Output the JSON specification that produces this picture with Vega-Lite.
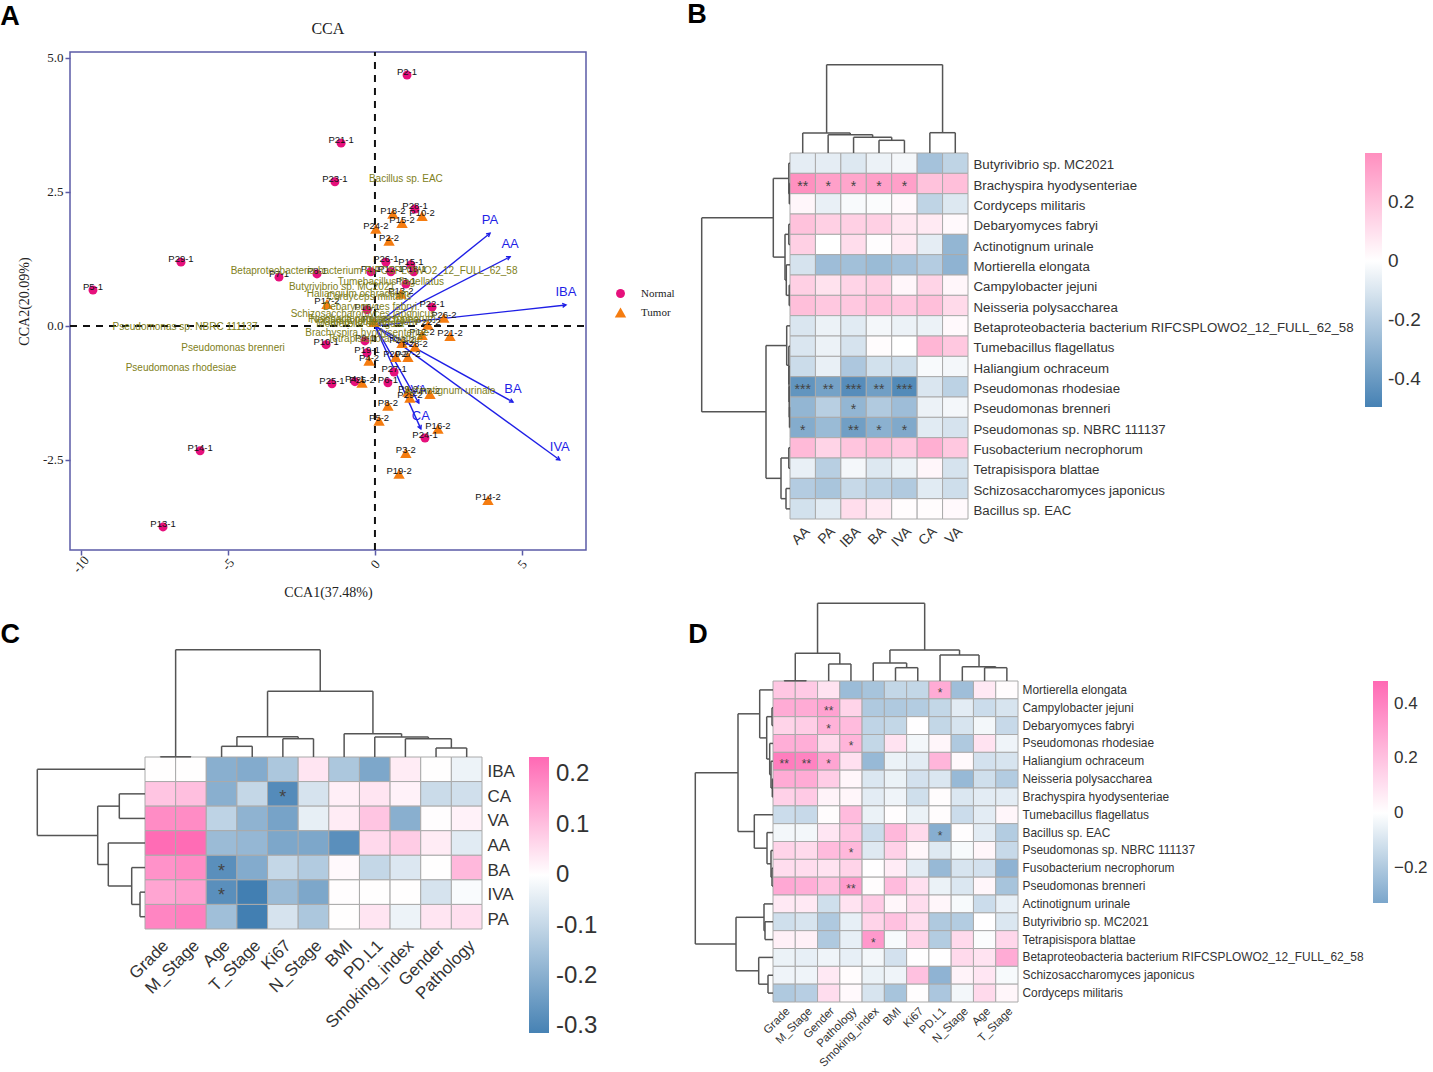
{"$schema":"https://vega.github.io/schema/vega-lite/v6.json","width":1433,"height":1072,"autosize":"none","padding":0,"background":"white","config":{"view":{"stroke":null}},
"resolve":{"scale":{"x":"independent","y":"independent","color":"independent","shape":"independent","size":"independent"},"axis":{"x":"independent","y":"independent"},"legend":{"color":"independent","shape":"independent","size":"independent"}},
"layer":[
{"encoding":{"x":{"field":"x","type":"quantitative","scale":{"domain":[-10.36,7.17],"range":[70,586],"nice":false,"zero":false},"axis":{"orient":"bottom","offset":-522,"values":[-10,-5,0,5],"grid":false,"title":"CCA1(37.48%)","titleFont":"Liberation Serif","titleFontSize":14,"titleFontWeight":"normal","titleColor":"#222","titlePadding":10,"labelFont":"Liberation Serif","labelFontSize":13,"labelAngle":-50,"labelAlign":"center","labelBaseline":"middle","labelPadding":9,"labelColor":"#222","labelExpr":"replace(''+datum.value,'−','-')","domain":false,"tickColor":"#5b5ba6","tickSize":5,"tickWidth":1.5}},
"y":{"field":"y","type":"quantitative","scale":{"domain":[-4.18,5.11],"range":[550,52],"nice":false,"zero":false},"axis":{"orient":"left","offset":-70,"values":[-2.5,0,2.5,5],"grid":false,"title":"CCA2(20.09%)","titleFont":"Liberation Serif","titleFontSize":14,"titleFontWeight":"normal","titleColor":"#222","titlePadding":11,"labelFont":"Liberation Serif","labelFontSize":13,"labelColor":"#222","labelExpr":"replace(format(datum.value,'.1f'),'−','-')","domain":false,"tickColor":"#5b5ba6","tickSize":5,"tickWidth":1.5}}},
"layer":[
{"data":{"values":[{"x":-10.36,"x1":7.17,"y":-4.18,"y1":5.11}]},"mark":{"type":"rect","fill":null,"fillOpacity":0,"stroke":"#5b5ba6","strokeWidth":1.5},"encoding":{"x2":{"field":"x1"},"y2":{"field":"y1"}}},
{"data":{"values":[{"x":0,"y":-4.18,"y1":5.11}]},"mark":{"type":"rule","color":"#111","strokeWidth":2,"strokeDash":[7,6]},"encoding":{"y2":{"field":"y1"}}},
{"data":{"values":[{"x":-10.36,"x1":7.17,"y":0}]},"mark":{"type":"rule","color":"#111","strokeWidth":2,"strokeDash":[7,6]},"encoding":{"x2":{"field":"x1"}}},
{"data":{"name":"arrows","values":[{"name":"PA","x":3.91,"y":1.73,"heading":51},{"name":"AA","x":4.59,"y":1.29,"heading":62.9},{"name":"IBA","x":6.49,"y":0.39,"heading":83.7},{"name":"BA","x":4.69,"y":-1.42,"heading":118.8},{"name":"IVA","x":6.28,"y":-2.5,"heading":125.9},{"name":"VA","x":1.49,"y":-1.44,"heading":150.3},{"name":"CA","x":1.56,"y":-1.92,"heading":155.9}]},
"layer":[{"mark":{"type":"rule","color":"#1f1fe6","strokeWidth":1.4},"encoding":{"x2":{"datum":0},"y2":{"datum":0}}},
{"mark":{"type":"point","shape":"M-0.5,0.9L0,0L0.5,0.9","filled":false,"stroke":"#1f1fe6","strokeWidth":1.4,"size":64,"opacity":1},"encoding":{"angle":{"field":"heading","type":"quantitative","scale":null}}},
{"mark":{"type":"text","color":"#1f1fe6","font":"Liberation Sans","fontSize":13,"dy":-13},"encoding":{"text":{"field":"name"}}}]},
{"data":{"values":[
{"n":"P2-1","g":"Normal","x":1.09,"y":4.68},{"n":"P21-1","g":"Normal","x":-1.15,"y":3.41},{"n":"P23-1","g":"Normal","x":-1.36,"y":2.69},{"n":"P28-1","g":"Normal","x":1.36,"y":2.18},{"n":"P29-1","g":"Normal","x":-6.59,"y":1.19},{"n":"P5-1","g":"Normal","x":-9.58,"y":0.67},{"n":"P7-1","g":"Normal","x":-3.26,"y":0.91},{"n":"P8-1","g":"Normal","x":-1.97,"y":0.97},{"n":"P26-1","g":"Normal","x":0.37,"y":1.19},{"n":"P15-1","g":"Normal","x":1.22,"y":1.14},{"n":"P1-1","g":"Normal","x":-0.14,"y":1.01},{"n":"P12-1","g":"Normal","x":0.54,"y":1.01},{"n":"P18-1","g":"Normal","x":1.32,"y":1.01},{"n":"P3-1","g":"Normal","x":1.05,"y":0.78},{"n":"P16-1","g":"Normal","x":-0.27,"y":0.3},{"n":"P10-1","g":"Normal","x":-1.66,"y":-0.35},{"n":"P19-1","g":"Normal","x":-0.27,"y":-0.5},{"n":"P22-1","g":"Normal","x":1.94,"y":0.35},{"n":"P9-1","g":"Normal","x":-0.34,"y":-0.28},{"n":"P27-1","g":"Normal","x":0.65,"y":-0.86},{"n":"P25-1","g":"Normal","x":-1.46,"y":-1.08},{"n":"P4-1","g":"Normal","x":-0.68,"y":-1.04},{"n":"P6-1","g":"Normal","x":0.44,"y":-1.06},{"n":"P24-1","g":"Normal","x":1.7,"y":-2.09},{"n":"P14-1","g":"Normal","x":-5.94,"y":-2.33},{"n":"P13-1","g":"Normal","x":-7.2,"y":-3.75},
{"n":"P10-2","g":"Tumor","x":1.6,"y":2.05},{"n":"P18-2","g":"Tumor","x":0.61,"y":2.09},{"n":"P15-2","g":"Tumor","x":0.92,"y":1.92},{"n":"P24-2","g":"Tumor","x":0.03,"y":1.81},{"n":"P2-2","g":"Tumor","x":0.48,"y":1.59},{"n":"P13-2","g":"Tumor","x":0.88,"y":0.6},{"n":"P17-2","g":"Tumor","x":-1.63,"y":0.41},{"n":"P26-2","g":"Tumor","x":2.34,"y":0.15},{"n":"P22-2","g":"Tumor","x":1.8,"y":0.02},{"n":"P12-2","g":"Tumor","x":1.6,"y":-0.17},{"n":"P21-2","g":"Tumor","x":2.55,"y":-0.19},{"n":"P11-2","g":"Tumor","x":-0.03,"y":0.07},{"n":"P23-2","g":"Tumor","x":0.92,"y":-0.32},{"n":"P28-2","g":"Tumor","x":1.36,"y":-0.39},{"n":"P4-2","g":"Tumor","x":-0.2,"y":-0.65},{"n":"P20-2","g":"Tumor","x":0.71,"y":-0.58},{"n":"P27-2","g":"Tumor","x":1.12,"y":-0.58},{"n":"P25-2","g":"Tumor","x":-0.44,"y":-1.06},{"n":"P7-2","g":"Tumor","x":1.87,"y":-1.27},{"n":"P29-2","g":"Tumor","x":1.19,"y":-1.34},{"n":"P9-2","g":"Tumor","x":1.12,"y":-1.23},{"n":"P8-2","g":"Tumor","x":0.44,"y":-1.49},{"n":"P5-2","g":"Tumor","x":0.14,"y":-1.77},{"n":"P16-2","g":"Tumor","x":2.14,"y":-1.92},{"n":"P3-2","g":"Tumor","x":1.05,"y":-2.37},{"n":"P19-2","g":"Tumor","x":0.82,"y":-2.76},{"n":"P14-2","g":"Tumor","x":3.84,"y":-3.25}]},
"layer":[{"mark":{"type":"point","filled":true,"opacity":1},"encoding":{"color":{"field":"g","type":"nominal","scale":{"domain":["Normal","Tumor"],"range":["#E6107C","#F57C10"]},"legend":{"orient":"none","legendX":614,"legendY":288,"title":null,"labelFont":"Liberation Serif","labelFontSize":11,"labelColor":"#222","rowPadding":7,"labelOffset":14}},"shape":{"field":"g","type":"nominal","scale":{"domain":["Normal","Tumor"],"range":["circle","triangle-up"]},"legend":{"orient":"none","legendX":614,"legendY":288,"title":null,"labelFont":"Liberation Serif","labelFontSize":11,"labelColor":"#222","rowPadding":7,"labelOffset":14}},"size":{"field":"g","type":"ordinal","scale":{"domain":["Normal","Tumor"],"range":[80,130]},"legend":{"orient":"none","legendX":614,"legendY":288,"title":null,"labelFont":"Liberation Serif","labelFontSize":11,"labelColor":"#222","rowPadding":7,"labelOffset":14}}}},
{"mark":{"type":"text","color":"#111","font":"Liberation Sans","fontSize":9.5,"dy":-3},"encoding":{"text":{"field":"n"}}}]},
{"data":{"values":[{"t":"Bacillus sp. EAC","x":1.05,"y":2.74},{"t":"Betaproteobacteria bacterium RIFCSPLOWO2_12_FULL_62_58","x":-0.03,"y":1.03},{"t":"Tumebacillus flagellatus","x":0.54,"y":0.82},{"t":"Butyrivibrio sp. MC2021","x":-1.12,"y":0.73},{"t":"Haliangium ochraceum","x":-0.58,"y":0.6},{"t":"Cordyceps militaris","x":-0.2,"y":0.54},{"t":"Debaryomyces fabryi","x":-0.17,"y":0.35},{"t":"Schizosaccharomyces japonicus","x":-0.41,"y":0.22},{"t":"Fusobacterium necrophorum","x":-0.1,"y":0.13},{"t":"Neisseria polysaccharea","x":-0.34,"y":0.11},{"t":"Campylobacter jejuni","x":-0.17,"y":0.07},{"t":"Mortierella elongata","x":-0.5,"y":0.04},{"t":"Pseudomonas sp. NBRC 111137","x":-6.45,"y":-0.02},{"t":"Pseudomonas brenneri","x":-4.82,"y":-0.41},{"t":"Pseudomonas rhodesiae","x":-6.59,"y":-0.78},{"t":"Brachyspira hyodysenteriae","x":-0.27,"y":-0.13},{"t":"Tetrapisispora blattae","x":0,"y":-0.24},{"t":"Actinotignum urinale","x":2.55,"y":-1.21}]},"mark":{"type":"text","color":"#808020","font":"Liberation Sans","fontSize":10},"encoding":{"text":{"field":"t"}}},
{"data":{"values":[{"t":"CCA","x":-1.6,"y":5.54}]},"mark":{"type":"text","color":"#222","font":"Liberation Serif","fontSize":16},"encoding":{"text":{"field":"t"}}},
{"data":{"values":[{"t":"A","x":-12.4,"y":5.76}]},"mark":{"type":"text","color":"#000","font":"Liberation Sans","fontSize":27,"fontWeight":"bold"},"encoding":{"text":{"field":"t"}}}
]},
{"data":{"values":[
{"r":"Butyrivibrio sp. MC2021","c":"AA","v":-0.07},{"r":"Butyrivibrio sp. MC2021","c":"PA","v":-0.07},{"r":"Butyrivibrio sp. MC2021","c":"IBA","v":-0.09},{"r":"Butyrivibrio sp. MC2021","c":"BA","v":-0.05},{"r":"Butyrivibrio sp. MC2021","c":"IVA","v":-0.03},{"r":"Butyrivibrio sp. MC2021","c":"CA","v":-0.24},{"r":"Butyrivibrio sp. MC2021","c":"VA","v":-0.17},
{"r":"Brachyspira hyodysenteriae","c":"AA","v":0.36,"s":"**"},{"r":"Brachyspira hyodysenteriae","c":"PA","v":0.31,"s":"*"},{"r":"Brachyspira hyodysenteriae","c":"IBA","v":0.29,"s":"*"},{"r":"Brachyspira hyodysenteriae","c":"BA","v":0.31,"s":"*"},{"r":"Brachyspira hyodysenteriae","c":"IVA","v":0.31,"s":"*"},{"r":"Brachyspira hyodysenteriae","c":"CA","v":0.2},{"r":"Brachyspira hyodysenteriae","c":"VA","v":0.21},
{"r":"Cordyceps militaris","c":"AA","v":0.03},{"r":"Cordyceps militaris","c":"PA","v":-0.06},{"r":"Cordyceps militaris","c":"IBA","v":-0.02},{"r":"Cordyceps militaris","c":"BA","v":-0.01},{"r":"Cordyceps militaris","c":"IVA","v":0.02},{"r":"Cordyceps militaris","c":"CA","v":-0.17},{"r":"Cordyceps militaris","c":"VA","v":-0.09},
{"r":"Debaryomyces fabryi","c":"AA","v":0.2},{"r":"Debaryomyces fabryi","c":"PA","v":0.155},{"r":"Debaryomyces fabryi","c":"IBA","v":0.155},{"r":"Debaryomyces fabryi","c":"BA","v":0.155},{"r":"Debaryomyces fabryi","c":"IVA","v":0.08},{"r":"Debaryomyces fabryi","c":"CA","v":0.07},{"r":"Debaryomyces fabryi","c":"VA","v":0.02},
{"r":"Actinotignum urinale","c":"AA","v":0.155},{"r":"Actinotignum urinale","c":"PA","v":0},{"r":"Actinotignum urinale","c":"IBA","v":0.11},{"r":"Actinotignum urinale","c":"BA","v":0.005},{"r":"Actinotignum urinale","c":"IVA","v":0.07},{"r":"Actinotignum urinale","c":"CA","v":-0.07},{"r":"Actinotignum urinale","c":"VA","v":-0.29},
{"r":"Mortierella elongata","c":"AA","v":-0.11},{"r":"Mortierella elongata","c":"PA","v":-0.26},{"r":"Mortierella elongata","c":"IBA","v":-0.25},{"r":"Mortierella elongata","c":"BA","v":-0.27},{"r":"Mortierella elongata","c":"IVA","v":-0.24},{"r":"Mortierella elongata","c":"CA","v":-0.2},{"r":"Mortierella elongata","c":"VA","v":-0.3},
{"r":"Campylobacter jejuni","c":"AA","v":0.155},{"r":"Campylobacter jejuni","c":"PA","v":0.095},{"r":"Campylobacter jejuni","c":"IBA","v":0.14},{"r":"Campylobacter jejuni","c":"BA","v":0.155},{"r":"Campylobacter jejuni","c":"IVA","v":0.03},{"r":"Campylobacter jejuni","c":"CA","v":0.14},{"r":"Campylobacter jejuni","c":"VA","v":0.03},
{"r":"Neisseria polysaccharea","c":"AA","v":0.21},{"r":"Neisseria polysaccharea","c":"PA","v":0.18},{"r":"Neisseria polysaccharea","c":"IBA","v":0.18},{"r":"Neisseria polysaccharea","c":"BA","v":0.2},{"r":"Neisseria polysaccharea","c":"IVA","v":0.18},{"r":"Neisseria polysaccharea","c":"CA","v":0.21},{"r":"Neisseria polysaccharea","c":"VA","v":0.12},
{"r":"Betaproteobacteria bacterium RIFCSPLOWO2_12_FULL_62_58","c":"AA","v":-0.1},{"r":"Betaproteobacteria bacterium RIFCSPLOWO2_12_FULL_62_58","c":"PA","v":-0.05},{"r":"Betaproteobacteria bacterium RIFCSPLOWO2_12_FULL_62_58","c":"IBA","v":-0.08},{"r":"Betaproteobacteria bacterium RIFCSPLOWO2_12_FULL_62_58","c":"BA","v":-0.03},{"r":"Betaproteobacteria bacterium RIFCSPLOWO2_12_FULL_62_58","c":"IVA","v":-0.05},{"r":"Betaproteobacteria bacterium RIFCSPLOWO2_12_FULL_62_58","c":"CA","v":-0.05},{"r":"Betaproteobacteria bacterium RIFCSPLOWO2_12_FULL_62_58","c":"VA","v":0.02},
{"r":"Tumebacillus flagellatus","c":"AA","v":-0.1},{"r":"Tumebacillus flagellatus","c":"PA","v":-0.05},{"r":"Tumebacillus flagellatus","c":"IBA","v":-0.11},{"r":"Tumebacillus flagellatus","c":"BA","v":0.01},{"r":"Tumebacillus flagellatus","c":"IVA","v":0},{"r":"Tumebacillus flagellatus","c":"CA","v":0.24},{"r":"Tumebacillus flagellatus","c":"VA","v":0.18},
{"r":"Haliangium ochraceum","c":"AA","v":-0.14},{"r":"Haliangium ochraceum","c":"PA","v":-0.06},{"r":"Haliangium ochraceum","c":"IBA","v":-0.22},{"r":"Haliangium ochraceum","c":"BA","v":-0.12},{"r":"Haliangium ochraceum","c":"IVA","v":-0.13},{"r":"Haliangium ochraceum","c":"CA","v":-0.02},{"r":"Haliangium ochraceum","c":"VA","v":-0.03},
{"r":"Pseudomonas rhodesiae","c":"AA","v":-0.42,"s":"***"},{"r":"Pseudomonas rhodesiae","c":"PA","v":-0.37,"s":"**"},{"r":"Pseudomonas rhodesiae","c":"IBA","v":-0.45,"s":"***"},{"r":"Pseudomonas rhodesiae","c":"BA","v":-0.38,"s":"**"},{"r":"Pseudomonas rhodesiae","c":"IVA","v":-0.46,"s":"***"},{"r":"Pseudomonas rhodesiae","c":"CA","v":-0.1},{"r":"Pseudomonas rhodesiae","c":"VA","v":-0.18},
{"r":"Pseudomonas brenneri","c":"AA","v":-0.29},{"r":"Pseudomonas brenneri","c":"PA","v":-0.19},{"r":"Pseudomonas brenneri","c":"IBA","v":-0.29,"s":"*"},{"r":"Pseudomonas brenneri","c":"BA","v":-0.21},{"r":"Pseudomonas brenneri","c":"IVA","v":-0.26},{"r":"Pseudomonas brenneri","c":"CA","v":-0.05},{"r":"Pseudomonas brenneri","c":"VA","v":-0.03},
{"r":"Pseudomonas sp. NBRC 111137","c":"AA","v":-0.33,"s":"*"},{"r":"Pseudomonas sp. NBRC 111137","c":"PA","v":-0.27},{"r":"Pseudomonas sp. NBRC 111137","c":"IBA","v":-0.38,"s":"**"},{"r":"Pseudomonas sp. NBRC 111137","c":"BA","v":-0.31,"s":"*"},{"r":"Pseudomonas sp. NBRC 111137","c":"IVA","v":-0.34,"s":"*"},{"r":"Pseudomonas sp. NBRC 111137","c":"CA","v":-0.08},{"r":"Pseudomonas sp. NBRC 111137","c":"VA","v":-0.11},
{"r":"Fusobacterium necrophorum","c":"AA","v":0.225},{"r":"Fusobacterium necrophorum","c":"PA","v":0.14},{"r":"Fusobacterium necrophorum","c":"IBA","v":0.19},{"r":"Fusobacterium necrophorum","c":"BA","v":0.21},{"r":"Fusobacterium necrophorum","c":"IVA","v":0.18},{"r":"Fusobacterium necrophorum","c":"CA","v":0.26},{"r":"Fusobacterium necrophorum","c":"VA","v":0.18},
{"r":"Tetrapisispora blattae","c":"AA","v":-0.06},{"r":"Tetrapisispora blattae","c":"PA","v":-0.19},{"r":"Tetrapisispora blattae","c":"IBA","v":-0.03},{"r":"Tetrapisispora blattae","c":"BA","v":-0.09},{"r":"Tetrapisispora blattae","c":"IVA","v":-0.05},{"r":"Tetrapisispora blattae","c":"CA","v":0.03},{"r":"Tetrapisispora blattae","c":"VA","v":-0.11},
{"r":"Schizosaccharomyces japonicus","c":"AA","v":-0.2},{"r":"Schizosaccharomyces japonicus","c":"PA","v":-0.23},{"r":"Schizosaccharomyces japonicus","c":"IBA","v":-0.15},{"r":"Schizosaccharomyces japonicus","c":"BA","v":-0.18},{"r":"Schizosaccharomyces japonicus","c":"IVA","v":-0.21},{"r":"Schizosaccharomyces japonicus","c":"CA","v":-0.08},{"r":"Schizosaccharomyces japonicus","c":"VA","v":-0.13},
{"r":"Bacillus sp. EAC","c":"AA","v":-0.12},{"r":"Bacillus sp. EAC","c":"PA","v":-0.08},{"r":"Bacillus sp. EAC","c":"IBA","v":0.11},{"r":"Bacillus sp. EAC","c":"BA","v":0.07},{"r":"Bacillus sp. EAC","c":"IVA","v":0.01},{"r":"Bacillus sp. EAC","c":"CA","v":0.01},{"r":"Bacillus sp. EAC","c":"VA","v":0.02}]},
"encoding":{"x":{"field":"c","type":"nominal","scale":{"domain":["AA","PA","IBA","BA","IVA","CA","VA"],"range":[790,968],"padding":0},"axis":{"orient":"bottom","offset":-553,"title":null,"ticks":false,"domain":false,"grid":false,"labelAngle":-45,"labelFont":"Liberation Sans","labelFontSize":14,"labelColor":"#333","labelPadding":5,"labelLimit":500,"labelOverlap":false}},
"y":{"field":"r","type":"nominal","scale":{"domain":["Butyrivibrio sp. MC2021","Brachyspira hyodysenteriae","Cordyceps militaris","Debaryomyces fabryi","Actinotignum urinale","Mortierella elongata","Campylobacter jejuni","Neisseria polysaccharea","Betaproteobacteria bacterium RIFCSPLOWO2_12_FULL_62_58","Tumebacillus flagellatus","Haliangium ochraceum","Pseudomonas rhodesiae","Pseudomonas brenneri","Pseudomonas sp. NBRC 111137","Fusobacterium necrophorum","Tetrapisispora blattae","Schizosaccharomyces japonicus","Bacillus sp. EAC"],"range":[153,519],"padding":0},"axis":{"orient":"right","offset":-465,"title":null,"ticks":false,"domain":false,"grid":false,"labelFont":"Liberation Sans","labelFontSize":13.25,"labelColor":"#333","labelPadding":5,"labelOffset":2,"labelLimit":600,"labelOverlap":false}}},
"layer":[{"mark":{"type":"rect","stroke":"#aaa","strokeWidth":1},"encoding":{"color":{"field":"v","type":"quantitative","scale":{"type":"linear","domain":[-0.495,0,0.366],"range":["#4682B4","#FFFFFF","#FF8FBF"],"interpolate":"rgb"},"legend":{"orient":"none","legendX":1365,"legendY":153,"title":null,"direction":"vertical","gradientLength":254,"gradientThickness":17,"values":[-0.4,-0.2,0,0.2],"labelExpr":"''+datum.value","labelFont":"Liberation Sans","labelFontSize":19,"labelColor":"#333","labelOffset":6,"labelOverlap":false,"gradientStrokeWidth":0}}}},
{"transform":[{"filter":"datum.s"}],"mark":{"type":"text","color":"#444","font":"Liberation Sans","fontSize":14,"dy":3},"encoding":{"text":{"field":"s"}}}]},
{"data":{"values":[{"a":3.5,"b":4.5,"ha":0,"hb":0,"h":12.7},{"a":2.5,"b":4.0,"ha":0,"hb":12.7,"h":15.7},{"a":1.5,"b":3.25,"ha":0,"hb":15.7,"h":18.3},{"a":0.5,"b":2.37,"ha":0,"hb":18.3,"h":20},{"a":5.5,"b":6.5,"ha":0,"hb":0,"h":20.3},{"a":1.44,"b":6.0,"ha":20,"hb":20.3,"h":88.3}]},
"encoding":{"x":{"field":"a","type":"quantitative","scale":{"domain":[0,7],"range":[790,968],"nice":false,"zero":false},"axis":null},"y":{"field":"h","type":"quantitative","scale":{"domain":[0,100],"range":[153,53],"nice":false,"zero":false},"axis":null}},
"layer":[{"mark":{"type":"rule","color":"#555","strokeWidth":1.5},"encoding":{"y2":{"field":"ha"}}},{"mark":{"type":"rule","color":"#555","strokeWidth":1.5},"encoding":{"x2":{"field":"b"}}},{"mark":{"type":"rule","color":"#555","strokeWidth":1.5},"encoding":{"x":{"field":"b","type":"quantitative","axis":null},"y2":{"field":"hb"}}},
{"data":{"values":[{"t":"B","a":-3.66,"h":138}]},"mark":{"type":"text","color":"#000","font":"Liberation Sans","fontSize":27,"fontWeight":"bold"},"encoding":{"text":{"field":"t"}}}]},
{"data":{"values":[{"a":1.5,"b":2.5,"ha":0,"hb":0,"h":0.7},{"a":0.5,"b":2.0,"ha":0,"hb":0.7,"h":1.2},{"a":3.5,"b":4.5,"ha":0,"hb":0,"h":1.2},{"a":6.5,"b":7.5,"ha":0,"hb":0,"h":0.8},{"a":5.5,"b":7.0,"ha":0,"hb":0.8,"h":3.7},{"a":4.0,"b":6.25,"ha":1.2,"hb":3.7,"h":5},{"a":1.25,"b":5.12,"ha":1.2,"hb":5,"h":16.7},{"a":12.5,"b":13.5,"ha":0,"hb":0,"h":0.5},{"a":11.5,"b":13,"ha":0,"hb":0.5,"h":0.8},{"a":10.5,"b":12.25,"ha":0,"hb":0.8,"h":1},{"a":9.5,"b":11.37,"ha":0,"hb":1,"h":1.2},{"a":8.5,"b":10.44,"ha":0,"hb":1.2,"h":3.3},{"a":14.5,"b":15.5,"ha":0,"hb":0,"h":1.2},{"a":16.5,"b":17.5,"ha":0,"hb":0,"h":4},{"a":15,"b":17,"ha":1.2,"hb":4,"h":9},{"a":9.47,"b":16,"ha":3.3,"hb":9,"h":24},{"a":3.19,"b":12.73,"ha":16.7,"hb":24,"h":88.3}]},
"encoding":{"x":{"field":"h","type":"quantitative","scale":{"domain":[0,100],"range":[790,690],"nice":false,"zero":false},"axis":null},"y":{"field":"a","type":"quantitative","scale":{"domain":[0,18],"range":[153,519],"nice":false,"zero":false},"axis":null}},
"layer":[{"mark":{"type":"rule","color":"#555","strokeWidth":1.5},"encoding":{"x2":{"field":"ha"}}},{"mark":{"type":"rule","color":"#555","strokeWidth":1.5},"encoding":{"y2":{"field":"b"}}},{"mark":{"type":"rule","color":"#555","strokeWidth":1.5},"encoding":{"y":{"field":"b","type":"quantitative","axis":null},"x2":{"field":"hb"}}}]},
{"data":{"values":[
{"r":"IBA","c":"Grade","v":0.002},{"r":"IBA","c":"M_Stage","v":0.002},{"r":"IBA","c":"Age","v":-0.2},{"r":"IBA","c":"T_Stage","v":-0.21},{"r":"IBA","c":"Ki67","v":-0.14},{"r":"IBA","c":"N_Stage","v":0.04},{"r":"IBA","c":"BMI","v":-0.14},{"r":"IBA","c":"PD.L1","v":-0.22},{"r":"IBA","c":"Smoking_index","v":0.03},{"r":"IBA","c":"Gender","v":0.002},{"r":"IBA","c":"Pathology","v":-0.03},
{"r":"CA","c":"Grade","v":0.09},{"r":"CA","c":"M_Stage","v":0.1},{"r":"CA","c":"Age","v":-0.2},{"r":"CA","c":"T_Stage","v":-0.1},{"r":"CA","c":"Ki67","v":-0.29,"s":"*"},{"r":"CA","c":"N_Stage","v":-0.07},{"r":"CA","c":"BMI","v":0.025},{"r":"CA","c":"PD.L1","v":0.04},{"r":"CA","c":"Smoking_index","v":0.02},{"r":"CA","c":"Gender","v":-0.09},{"r":"CA","c":"Pathology","v":-0.08},
{"r":"VA","c":"Grade","v":0.18},{"r":"VA","c":"M_Stage","v":0.18},{"r":"VA","c":"Age","v":-0.11},{"r":"VA","c":"T_Stage","v":-0.19},{"r":"VA","c":"Ki67","v":-0.23},{"r":"VA","c":"N_Stage","v":-0.04},{"r":"VA","c":"BMI","v":0.03},{"r":"VA","c":"PD.L1","v":0.09},{"r":"VA","c":"Smoking_index","v":-0.2},{"r":"VA","c":"Gender","v":0.003},{"r":"VA","c":"Pathology","v":0.02},
{"r":"AA","c":"Grade","v":0.23},{"r":"AA","c":"M_Stage","v":0.23},{"r":"AA","c":"Age","v":-0.17},{"r":"AA","c":"T_Stage","v":-0.18},{"r":"AA","c":"Ki67","v":-0.22},{"r":"AA","c":"N_Stage","v":-0.22},{"r":"AA","c":"BMI","v":-0.28},{"r":"AA","c":"PD.L1","v":0.06},{"r":"AA","c":"Smoking_index","v":0.08},{"r":"AA","c":"Gender","v":0.03},{"r":"AA","c":"Pathology","v":-0.05},
{"r":"BA","c":"Grade","v":0.17},{"r":"BA","c":"M_Stage","v":0.18},{"r":"BA","c":"Age","v":-0.28,"s":"*"},{"r":"BA","c":"T_Stage","v":-0.21},{"r":"BA","c":"Ki67","v":-0.1},{"r":"BA","c":"N_Stage","v":-0.13},{"r":"BA","c":"BMI","v":0.01},{"r":"BA","c":"PD.L1","v":-0.1},{"r":"BA","c":"Smoking_index","v":-0.06},{"r":"BA","c":"Gender","v":0.002},{"r":"BA","c":"Pathology","v":0.11},
{"r":"IVA","c":"Grade","v":0.14},{"r":"IVA","c":"M_Stage","v":0.15},{"r":"IVA","c":"Age","v":-0.28,"s":"*"},{"r":"IVA","c":"T_Stage","v":-0.32},{"r":"IVA","c":"Ki67","v":-0.17},{"r":"IVA","c":"N_Stage","v":-0.22},{"r":"IVA","c":"BMI","v":0.003},{"r":"IVA","c":"PD.L1","v":0.002},{"r":"IVA","c":"Smoking_index","v":0.002},{"r":"IVA","c":"Gender","v":-0.07},{"r":"IVA","c":"Pathology","v":-0.01},
{"r":"PA","c":"Grade","v":0.19},{"r":"PA","c":"M_Stage","v":0.2},{"r":"PA","c":"Age","v":-0.16},{"r":"PA","c":"T_Stage","v":-0.32},{"r":"PA","c":"Ki67","v":-0.07},{"r":"PA","c":"N_Stage","v":-0.14},{"r":"PA","c":"BMI","v":0.002},{"r":"PA","c":"PD.L1","v":0.04},{"r":"PA","c":"Smoking_index","v":-0.03},{"r":"PA","c":"Gender","v":0.04},{"r":"PA","c":"Pathology","v":0.05}]},
"encoding":{"x":{"field":"c","type":"nominal","scale":{"domain":["Grade","M_Stage","Age","T_Stage","Ki67","N_Stage","BMI","PD.L1","Smoking_index","Gender","Pathology"],"range":[145,482],"padding":0},"axis":{"orient":"bottom","offset":-143,"title":null,"ticks":false,"domain":false,"grid":false,"labelAngle":-45,"labelFont":"Liberation Sans","labelFontSize":17,"labelColor":"#333","labelPadding":8,"labelLimit":500,"labelOverlap":false}},
"y":{"field":"r","type":"nominal","scale":{"domain":["IBA","CA","VA","AA","BA","IVA","PA"],"range":[757,929],"padding":0},"axis":{"orient":"right","offset":-951,"title":null,"ticks":false,"domain":false,"grid":false,"labelFont":"Liberation Sans","labelFontSize":17,"labelColor":"#333","labelPadding":5,"labelOffset":3,"labelLimit":600,"labelOverlap":false}}},
"layer":[{"mark":{"type":"rect","stroke":"#aaa","strokeWidth":1},"encoding":{"color":{"field":"v","type":"quantitative","scale":{"type":"linear","domain":[-0.313,0,0.234],"range":["#4682B4","#FFFFFF","#FF69B4"],"interpolate":"rgb"},"legend":{"orient":"none","legendX":529,"legendY":757,"title":null,"direction":"vertical","gradientLength":276,"gradientThickness":20,"values":[-0.3,-0.2,-0.1,0,0.1,0.2],"labelExpr":"''+datum.value","labelFont":"Liberation Sans","labelFontSize":24,"labelColor":"#333","labelOffset":7,"labelOverlap":false,"gradientStrokeWidth":0}}}},
{"transform":[{"filter":"datum.s"}],"mark":{"type":"text","color":"#444","font":"Liberation Sans","fontSize":18,"dy":4},"encoding":{"text":{"field":"s"}}}]},
{"data":{"values":[{"a":2.5,"b":3.5,"ha":0,"hb":0,"h":10.7},{"a":4.5,"b":5.5,"ha":0,"hb":0,"h":18.3},{"a":3,"b":5,"ha":10.7,"hb":18.3,"h":20.3},{"a":9.5,"b":10.5,"ha":0,"hb":0,"h":9},{"a":8.5,"b":10,"ha":0,"hb":9,"h":18.3},{"a":7.5,"b":9.25,"ha":0,"hb":18.3,"h":20},{"a":6.5,"b":8.375,"ha":0,"hb":20,"h":23.3},{"a":4,"b":7.44,"ha":20.3,"hb":23.3,"h":65.7},{"a":0.5,"b":1.5,"ha":0,"hb":0,"h":0.2},{"a":1,"b":5.72,"ha":0.2,"hb":65.7,"h":107.3}]},
"encoding":{"x":{"field":"a","type":"quantitative","scale":{"domain":[0,11],"range":[145,482],"nice":false,"zero":false},"axis":null},"y":{"field":"h","type":"quantitative","scale":{"domain":[0,120],"range":[757,637],"nice":false,"zero":false},"axis":null}},
"layer":[{"mark":{"type":"rule","color":"#555","strokeWidth":1.5},"encoding":{"y2":{"field":"ha"}}},{"mark":{"type":"rule","color":"#555","strokeWidth":1.5},"encoding":{"x2":{"field":"b"}}},{"mark":{"type":"rule","color":"#555","strokeWidth":1.5},"encoding":{"x":{"field":"b","type":"quantitative","axis":null},"y2":{"field":"hb"}}},
{"data":{"values":[{"t":"C","a":-4.4,"h":122}]},"mark":{"type":"text","color":"#000","font":"Liberation Sans","fontSize":27,"fontWeight":"bold"},"encoding":{"text":{"field":"t"}}}]},
{"data":{"values":[{"a":1.5,"b":2.5,"ha":0,"hb":0,"h":25.7},{"a":5.5,"b":6.5,"ha":0,"hb":0,"h":5},{"a":4.5,"b":6,"ha":0,"hb":5,"h":13.3},{"a":3.5,"b":5.25,"ha":0,"hb":13.3,"h":36.7},{"a":2,"b":4.375,"ha":25.7,"hb":36.7,"h":47.3},{"a":0.5,"b":3.19,"ha":0,"hb":47.3,"h":107.7}]},
"encoding":{"x":{"field":"h","type":"quantitative","scale":{"domain":[0,120],"range":[145,25],"nice":false,"zero":false},"axis":null},"y":{"field":"a","type":"quantitative","scale":{"domain":[0,7],"range":[757,929],"nice":false,"zero":false},"axis":null}},
"layer":[{"mark":{"type":"rule","color":"#555","strokeWidth":1.5},"encoding":{"x2":{"field":"ha"}}},{"mark":{"type":"rule","color":"#555","strokeWidth":1.5},"encoding":{"y2":{"field":"b"}}},{"mark":{"type":"rule","color":"#555","strokeWidth":1.5},"encoding":{"y":{"field":"b","type":"quantitative","axis":null},"x2":{"field":"hb"}}}]},
{"data":{"values":[
{"r":"Mortierella elongata","c":"Grade","v":0.18},{"r":"Mortierella elongata","c":"M_Stage","v":0.17},{"r":"Mortierella elongata","c":"Gender","v":0.09},{"r":"Mortierella elongata","c":"Pathology","v":-0.25},{"r":"Mortierella elongata","c":"Smoking_index","v":-0.22},{"r":"Mortierella elongata","c":"BMI","v":-0.15},{"r":"Mortierella elongata","c":"Ki67","v":-0.15},{"r":"Mortierella elongata","c":"PD.L1","v":0.27,"s":"*"},{"r":"Mortierella elongata","c":"N_Stage","v":-0.24},{"r":"Mortierella elongata","c":"Age","v":0.07},{"r":"Mortierella elongata","c":"T_Stage","v":0.01},
{"r":"Campylobacter jejuni","c":"Grade","v":0.27},{"r":"Campylobacter jejuni","c":"M_Stage","v":0.27},{"r":"Campylobacter jejuni","c":"Gender","v":0.3,"s":"**"},{"r":"Campylobacter jejuni","c":"Pathology","v":0.14},{"r":"Campylobacter jejuni","c":"Smoking_index","v":-0.2},{"r":"Campylobacter jejuni","c":"BMI","v":-0.2},{"r":"Campylobacter jejuni","c":"Ki67","v":-0.19},{"r":"Campylobacter jejuni","c":"PD.L1","v":-0.15},{"r":"Campylobacter jejuni","c":"N_Stage","v":-0.07},{"r":"Campylobacter jejuni","c":"Age","v":-0.13},{"r":"Campylobacter jejuni","c":"T_Stage","v":-0.1},
{"r":"Debaryomyces fabryi","c":"Grade","v":0.14},{"r":"Debaryomyces fabryi","c":"M_Stage","v":0.16},{"r":"Debaryomyces fabryi","c":"Gender","v":0.25,"s":"*"},{"r":"Debaryomyces fabryi","c":"Pathology","v":0.22},{"r":"Debaryomyces fabryi","c":"Smoking_index","v":-0.16},{"r":"Debaryomyces fabryi","c":"BMI","v":-0.15},{"r":"Debaryomyces fabryi","c":"Ki67","v":0.003},{"r":"Debaryomyces fabryi","c":"PD.L1","v":-0.15},{"r":"Debaryomyces fabryi","c":"N_Stage","v":-0.1},{"r":"Debaryomyces fabryi","c":"Age","v":-0.03},{"r":"Debaryomyces fabryi","c":"T_Stage","v":-0.14},
{"r":"Pseudomonas rhodesiae","c":"Grade","v":0.26},{"r":"Pseudomonas rhodesiae","c":"M_Stage","v":0.26},{"r":"Pseudomonas rhodesiae","c":"Gender","v":0.12},{"r":"Pseudomonas rhodesiae","c":"Pathology","v":0.24,"s":"*"},{"r":"Pseudomonas rhodesiae","c":"Smoking_index","v":-0.15},{"r":"Pseudomonas rhodesiae","c":"BMI","v":0.09},{"r":"Pseudomonas rhodesiae","c":"Ki67","v":-0.03},{"r":"Pseudomonas rhodesiae","c":"PD.L1","v":0.03},{"r":"Pseudomonas rhodesiae","c":"N_Stage","v":-0.2},{"r":"Pseudomonas rhodesiae","c":"Age","v":0.09},{"r":"Pseudomonas rhodesiae","c":"T_Stage","v":-0.04},
{"r":"Haliangium ochraceum","c":"Grade","v":0.42,"s":"**"},{"r":"Haliangium ochraceum","c":"M_Stage","v":0.4,"s":"**"},{"r":"Haliangium ochraceum","c":"Gender","v":0.29,"s":"*"},{"r":"Haliangium ochraceum","c":"Pathology","v":0.1},{"r":"Haliangium ochraceum","c":"Smoking_index","v":-0.26},{"r":"Haliangium ochraceum","c":"BMI","v":-0.05},{"r":"Haliangium ochraceum","c":"Ki67","v":-0.07},{"r":"Haliangium ochraceum","c":"PD.L1","v":0.24},{"r":"Haliangium ochraceum","c":"N_Stage","v":0.02},{"r":"Haliangium ochraceum","c":"Age","v":-0.11},{"r":"Haliangium ochraceum","c":"T_Stage","v":-0.1},
{"r":"Neisseria polysaccharea","c":"Grade","v":0.27},{"r":"Neisseria polysaccharea","c":"M_Stage","v":0.27},{"r":"Neisseria polysaccharea","c":"Gender","v":0.16},{"r":"Neisseria polysaccharea","c":"Pathology","v":0.03},{"r":"Neisseria polysaccharea","c":"Smoking_index","v":-0.09},{"r":"Neisseria polysaccharea","c":"BMI","v":-0.05},{"r":"Neisseria polysaccharea","c":"Ki67","v":-0.11},{"r":"Neisseria polysaccharea","c":"PD.L1","v":-0.09},{"r":"Neisseria polysaccharea","c":"N_Stage","v":-0.26},{"r":"Neisseria polysaccharea","c":"Age","v":-0.12},{"r":"Neisseria polysaccharea","c":"T_Stage","v":-0.19},
{"r":"Brachyspira hyodysenteriae","c":"Grade","v":0.15},{"r":"Brachyspira hyodysenteriae","c":"M_Stage","v":0.17},{"r":"Brachyspira hyodysenteriae","c":"Gender","v":0.04},{"r":"Brachyspira hyodysenteriae","c":"Pathology","v":0.03},{"r":"Brachyspira hyodysenteriae","c":"Smoking_index","v":-0.07},{"r":"Brachyspira hyodysenteriae","c":"BMI","v":-0.04},{"r":"Brachyspira hyodysenteriae","c":"Ki67","v":-0.12},{"r":"Brachyspira hyodysenteriae","c":"PD.L1","v":0.01},{"r":"Brachyspira hyodysenteriae","c":"N_Stage","v":-0.09},{"r":"Brachyspira hyodysenteriae","c":"Age","v":-0.07},{"r":"Brachyspira hyodysenteriae","c":"T_Stage","v":-0.07},
{"r":"Tumebacillus flagellatus","c":"Grade","v":-0.13},{"r":"Tumebacillus flagellatus","c":"M_Stage","v":-0.14},{"r":"Tumebacillus flagellatus","c":"Gender","v":0.01},{"r":"Tumebacillus flagellatus","c":"Pathology","v":0.22},{"r":"Tumebacillus flagellatus","c":"Smoking_index","v":-0.05},{"r":"Tumebacillus flagellatus","c":"BMI","v":0.005},{"r":"Tumebacillus flagellatus","c":"Ki67","v":-0.05},{"r":"Tumebacillus flagellatus","c":"PD.L1","v":0.01},{"r":"Tumebacillus flagellatus","c":"N_Stage","v":-0.13},{"r":"Tumebacillus flagellatus","c":"Age","v":-0.07},{"r":"Tumebacillus flagellatus","c":"T_Stage","v":0.03},
{"r":"Bacillus sp. EAC","c":"Grade","v":-0.03},{"r":"Bacillus sp. EAC","c":"M_Stage","v":-0.03},{"r":"Bacillus sp. EAC","c":"Gender","v":0.08},{"r":"Bacillus sp. EAC","c":"Pathology","v":0.18},{"r":"Bacillus sp. EAC","c":"Smoking_index","v":-0.13},{"r":"Bacillus sp. EAC","c":"BMI","v":0.23},{"r":"Bacillus sp. EAC","c":"Ki67","v":0.12},{"r":"Bacillus sp. EAC","c":"PD.L1","v":-0.3,"s":"*"},{"r":"Bacillus sp. EAC","c":"N_Stage","v":0.005},{"r":"Bacillus sp. EAC","c":"Age","v":-0.07},{"r":"Bacillus sp. EAC","c":"T_Stage","v":-0.19},
{"r":"Pseudomonas sp. NBRC 111137","c":"Grade","v":0.14},{"r":"Pseudomonas sp. NBRC 111137","c":"M_Stage","v":0.12},{"r":"Pseudomonas sp. NBRC 111137","c":"Gender","v":0.22},{"r":"Pseudomonas sp. NBRC 111137","c":"Pathology","v":0.23,"s":"*"},{"r":"Pseudomonas sp. NBRC 111137","c":"Smoking_index","v":-0.08},{"r":"Pseudomonas sp. NBRC 111137","c":"BMI","v":0.15},{"r":"Pseudomonas sp. NBRC 111137","c":"Ki67","v":0.03},{"r":"Pseudomonas sp. NBRC 111137","c":"PD.L1","v":-0.08},{"r":"Pseudomonas sp. NBRC 111137","c":"N_Stage","v":-0.02},{"r":"Pseudomonas sp. NBRC 111137","c":"Age","v":0.03},{"r":"Pseudomonas sp. NBRC 111137","c":"T_Stage","v":-0.14},
{"r":"Fusobacterium necrophorum","c":"Grade","v":0.11},{"r":"Fusobacterium necrophorum","c":"M_Stage","v":0.11},{"r":"Fusobacterium necrophorum","c":"Gender","v":0.09},{"r":"Fusobacterium necrophorum","c":"Pathology","v":0.14},{"r":"Fusobacterium necrophorum","c":"Smoking_index","v":0.003},{"r":"Fusobacterium necrophorum","c":"BMI","v":0.06},{"r":"Fusobacterium necrophorum","c":"Ki67","v":-0.07},{"r":"Fusobacterium necrophorum","c":"PD.L1","v":-0.26},{"r":"Fusobacterium necrophorum","c":"N_Stage","v":-0.1},{"r":"Fusobacterium necrophorum","c":"Age","v":-0.11},{"r":"Fusobacterium necrophorum","c":"T_Stage","v":-0.28},
{"r":"Pseudomonas brenneri","c":"Grade","v":0.28},{"r":"Pseudomonas brenneri","c":"M_Stage","v":0.26},{"r":"Pseudomonas brenneri","c":"Gender","v":0.2},{"r":"Pseudomonas brenneri","c":"Pathology","v":0.32,"s":"**"},{"r":"Pseudomonas brenneri","c":"Smoking_index","v":0.01},{"r":"Pseudomonas brenneri","c":"BMI","v":0.22},{"r":"Pseudomonas brenneri","c":"Ki67","v":0.1},{"r":"Pseudomonas brenneri","c":"PD.L1","v":-0.05},{"r":"Pseudomonas brenneri","c":"N_Stage","v":-0.09},{"r":"Pseudomonas brenneri","c":"Age","v":0.03},{"r":"Pseudomonas brenneri","c":"T_Stage","v":-0.22},
{"r":"Actinotignum urinale","c":"Grade","v":0.07},{"r":"Actinotignum urinale","c":"M_Stage","v":0.07},{"r":"Actinotignum urinale","c":"Gender","v":-0.12},{"r":"Actinotignum urinale","c":"Pathology","v":0.09},{"r":"Actinotignum urinale","c":"Smoking_index","v":0.17},{"r":"Actinotignum urinale","c":"BMI","v":0.03},{"r":"Actinotignum urinale","c":"Ki67","v":0.11},{"r":"Actinotignum urinale","c":"PD.L1","v":0.03},{"r":"Actinotignum urinale","c":"N_Stage","v":-0.02},{"r":"Actinotignum urinale","c":"Age","v":-0.13},{"r":"Actinotignum urinale","c":"T_Stage","v":-0.06},
{"r":"Butyrivibrio sp. MC2021","c":"Grade","v":-0.12},{"r":"Butyrivibrio sp. MC2021","c":"M_Stage","v":-0.1},{"r":"Butyrivibrio sp. MC2021","c":"Gender","v":-0.2},{"r":"Butyrivibrio sp. MC2021","c":"Pathology","v":-0.06},{"r":"Butyrivibrio sp. MC2021","c":"Smoking_index","v":0.14},{"r":"Butyrivibrio sp. MC2021","c":"BMI","v":0.2},{"r":"Butyrivibrio sp. MC2021","c":"Ki67","v":0.11},{"r":"Butyrivibrio sp. MC2021","c":"PD.L1","v":-0.2},{"r":"Butyrivibrio sp. MC2021","c":"N_Stage","v":-0.19},{"r":"Butyrivibrio sp. MC2021","c":"Age","v":0.003},{"r":"Butyrivibrio sp. MC2021","c":"T_Stage","v":-0.09},
{"r":"Tetrapisispora blattae","c":"Grade","v":0.05},{"r":"Tetrapisispora blattae","c":"M_Stage","v":0.05},{"r":"Tetrapisispora blattae","c":"Gender","v":-0.2},{"r":"Tetrapisispora blattae","c":"Pathology","v":-0.06},{"r":"Tetrapisispora blattae","c":"Smoking_index","v":0.33,"s":"*"},{"r":"Tetrapisispora blattae","c":"BMI","v":-0.02},{"r":"Tetrapisispora blattae","c":"Ki67","v":0.14},{"r":"Tetrapisispora blattae","c":"PD.L1","v":-0.19},{"r":"Tetrapisispora blattae","c":"N_Stage","v":0.12},{"r":"Tetrapisispora blattae","c":"Age","v":-0.01},{"r":"Tetrapisispora blattae","c":"T_Stage","v":0.13},
{"r":"Betaproteobacteria bacterium RIFCSPLOWO2_12_FULL_62_58","c":"Grade","v":-0.05},{"r":"Betaproteobacteria bacterium RIFCSPLOWO2_12_FULL_62_58","c":"M_Stage","v":-0.06},{"r":"Betaproteobacteria bacterium RIFCSPLOWO2_12_FULL_62_58","c":"Gender","v":-0.04},{"r":"Betaproteobacteria bacterium RIFCSPLOWO2_12_FULL_62_58","c":"Pathology","v":-0.06},{"r":"Betaproteobacteria bacterium RIFCSPLOWO2_12_FULL_62_58","c":"Smoking_index","v":-0.03},{"r":"Betaproteobacteria bacterium RIFCSPLOWO2_12_FULL_62_58","c":"BMI","v":-0.11},{"r":"Betaproteobacteria bacterium RIFCSPLOWO2_12_FULL_62_58","c":"Ki67","v":0.003},{"r":"Betaproteobacteria bacterium RIFCSPLOWO2_12_FULL_62_58","c":"PD.L1","v":0.002},{"r":"Betaproteobacteria bacterium RIFCSPLOWO2_12_FULL_62_58","c":"N_Stage","v":0.12},{"r":"Betaproteobacteria bacterium RIFCSPLOWO2_12_FULL_62_58","c":"Age","v":0.09},{"r":"Betaproteobacteria bacterium RIFCSPLOWO2_12_FULL_62_58","c":"T_Stage","v":0.27},
{"r":"Schizosaccharomyces japonicus","c":"Grade","v":-0.04},{"r":"Schizosaccharomyces japonicus","c":"M_Stage","v":-0.04},{"r":"Schizosaccharomyces japonicus","c":"Gender","v":0.07},{"r":"Schizosaccharomyces japonicus","c":"Pathology","v":0.01},{"r":"Schizosaccharomyces japonicus","c":"Smoking_index","v":-0.05},{"r":"Schizosaccharomyces japonicus","c":"BMI","v":-0.04},{"r":"Schizosaccharomyces japonicus","c":"Ki67","v":0.2},{"r":"Schizosaccharomyces japonicus","c":"PD.L1","v":-0.28},{"r":"Schizosaccharomyces japonicus","c":"N_Stage","v":0.04},{"r":"Schizosaccharomyces japonicus","c":"Age","v":0.08},{"r":"Schizosaccharomyces japonicus","c":"T_Stage","v":-0.02},
{"r":"Cordyceps militaris","c":"Grade","v":-0.2},{"r":"Cordyceps militaris","c":"M_Stage","v":-0.18},{"r":"Cordyceps militaris","c":"Gender","v":0.11},{"r":"Cordyceps militaris","c":"Pathology","v":0.02},{"r":"Cordyceps militaris","c":"Smoking_index","v":-0.1},{"r":"Cordyceps militaris","c":"BMI","v":-0.22},{"r":"Cordyceps militaris","c":"Ki67","v":0.005},{"r":"Cordyceps militaris","c":"PD.L1","v":-0.21},{"r":"Cordyceps militaris","c":"N_Stage","v":-0.03},{"r":"Cordyceps militaris","c":"Age","v":0.12},{"r":"Cordyceps militaris","c":"T_Stage","v":0.03}]},
"encoding":{"x":{"field":"c","type":"nominal","scale":{"domain":["Grade","M_Stage","Gender","Pathology","Smoking_index","BMI","Ki67","PD.L1","N_Stage","Age","T_Stage"],"range":[773,1018],"padding":0},"axis":{"orient":"bottom","offset":-70,"title":null,"ticks":false,"domain":false,"grid":false,"labelAngle":-45,"labelFont":"Liberation Sans","labelFontSize":11.5,"labelColor":"#333","labelPadding":3,"labelLimit":500,"labelOverlap":false}},
"y":{"field":"r","type":"nominal","scale":{"domain":["Mortierella elongata","Campylobacter jejuni","Debaryomyces fabryi","Pseudomonas rhodesiae","Haliangium ochraceum","Neisseria polysaccharea","Brachyspira hyodysenteriae","Tumebacillus flagellatus","Bacillus sp. EAC","Pseudomonas sp. NBRC 111137","Fusobacterium necrophorum","Pseudomonas brenneri","Actinotignum urinale","Butyrivibrio sp. MC2021","Tetrapisispora blattae","Betaproteobacteria bacterium RIFCSPLOWO2_12_FULL_62_58","Schizosaccharomyces japonicus","Cordyceps militaris"],"range":[681,1002],"padding":0},"axis":{"orient":"right","offset":-415,"title":null,"ticks":false,"domain":false,"grid":false,"labelFont":"Liberation Sans","labelFontSize":11.9,"labelColor":"#333","labelPadding":4,"labelLimit":600,"labelOverlap":false}}},
"layer":[{"mark":{"type":"rect","stroke":"#aaa","strokeWidth":1},"encoding":{"color":{"field":"v","type":"quantitative","scale":{"type":"linear","domain":[-0.33,0,0.484],"range":["#7BA6CB","#FFFFFF","#FF69B4"],"interpolate":"rgb"},"legend":{"orient":"none","legendX":1373,"legendY":681,"title":null,"direction":"vertical","gradientLength":222,"gradientThickness":15,"values":[-0.2,0,0.2,0.4],"labelExpr":"replace(''+datum.value,'-','−')","labelFont":"Liberation Sans","labelFontSize":17,"labelColor":"#333","labelOffset":6,"labelOverlap":false,"gradientStrokeWidth":0}}}},
{"transform":[{"filter":"datum.s"}],"mark":{"type":"text","color":"#444","font":"Liberation Sans","fontSize":12,"dy":3},"encoding":{"text":{"field":"s"}}}]},
{"data":{"values":[{"a":2.5,"b":3.5,"ha":0,"hb":0,"h":17},{"a":0.5,"b":1.5,"ha":0,"hb":0,"h":0.2},{"a":1,"b":3,"ha":0.2,"hb":17,"h":27.7},{"a":5.5,"b":6.5,"ha":0,"hb":0,"h":13.3},{"a":4.5,"b":6,"ha":0,"hb":13.3,"h":18},{"a":9.5,"b":10.5,"ha":0,"hb":0,"h":13.3},{"a":8.5,"b":10,"ha":0,"hb":13.3,"h":14.3},{"a":7.5,"b":9.25,"ha":0,"hb":14.3,"h":26},{"a":5.25,"b":8.375,"ha":18,"hb":26,"h":31},{"a":2,"b":6.81,"ha":27.7,"hb":31,"h":77.7}]},
"encoding":{"x":{"field":"a","type":"quantitative","scale":{"domain":[0,11],"range":[773,1018],"nice":false,"zero":false},"axis":null},"y":{"field":"h","type":"quantitative","scale":{"domain":[0,100],"range":[681,581],"nice":false,"zero":false},"axis":null}},
"layer":[{"mark":{"type":"rule","color":"#555","strokeWidth":1.5},"encoding":{"y2":{"field":"ha"}}},{"mark":{"type":"rule","color":"#555","strokeWidth":1.5},"encoding":{"x2":{"field":"b"}}},{"mark":{"type":"rule","color":"#555","strokeWidth":1.5},"encoding":{"x":{"field":"b","type":"quantitative","axis":null},"y2":{"field":"hb"}}},
{"data":{"values":[{"t":"D","a":-3.37,"h":46}]},"mark":{"type":"text","color":"#000","font":"Liberation Sans","fontSize":27,"fontWeight":"bold"},"encoding":{"text":{"field":"t"}}}]},
{"data":{"values":[{"a":1.5,"b":2.5,"ha":0,"hb":0,"h":1},{"a":5.5,"b":6.5,"ha":0,"hb":0,"h":0.7},{"a":4.5,"b":6,"ha":0,"hb":0.7,"h":2},{"a":3.5,"b":5.25,"ha":0,"hb":2,"h":3.3},{"a":2,"b":4.375,"ha":1,"hb":3.3,"h":6.3},{"a":0.5,"b":3.19,"ha":0,"hb":6.3,"h":13.3},{"a":10.5,"b":11.5,"ha":0,"hb":0,"h":1},{"a":9.5,"b":11,"ha":0,"hb":1,"h":2},{"a":8.5,"b":10.25,"ha":0,"hb":2,"h":6},{"a":7.5,"b":9.375,"ha":0,"hb":6,"h":18.7},{"a":1.84,"b":8.44,"ha":13.3,"hb":18.7,"h":35},{"a":13.5,"b":14.5,"ha":0,"hb":0,"h":8},{"a":12.5,"b":14,"ha":0,"hb":8,"h":9},{"a":16.5,"b":17.5,"ha":0,"hb":0,"h":5},{"a":15.5,"b":17,"ha":0,"hb":5,"h":14.3},{"a":13.25,"b":16.25,"ha":9,"hb":14.3,"h":37},{"a":5.14,"b":14.75,"ha":35,"hb":37,"h":77.7}]},
"encoding":{"x":{"field":"h","type":"quantitative","scale":{"domain":[0,100],"range":[773,673],"nice":false,"zero":false},"axis":null},"y":{"field":"a","type":"quantitative","scale":{"domain":[0,18],"range":[681,1002],"nice":false,"zero":false},"axis":null}},
"layer":[{"mark":{"type":"rule","color":"#555","strokeWidth":1.5},"encoding":{"x2":{"field":"ha"}}},{"mark":{"type":"rule","color":"#555","strokeWidth":1.5},"encoding":{"y2":{"field":"b"}}},{"mark":{"type":"rule","color":"#555","strokeWidth":1.5},"encoding":{"y":{"field":"b","type":"quantitative","axis":null},"x2":{"field":"hb"}}}]}
]}
